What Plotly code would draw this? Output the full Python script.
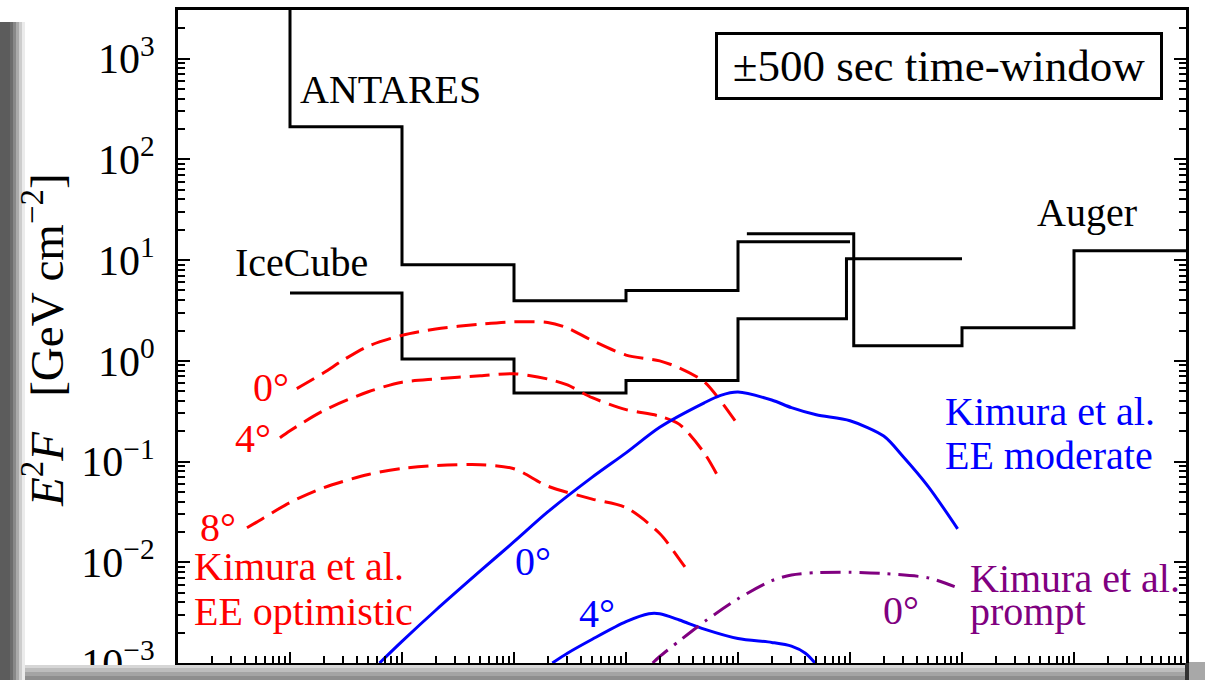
import plotly.graph_objects as go

FONT = "Liberation Serif"
RED, BLUE, PURPLE = "#ff0000", "#0000ff", "#800080"

# ---- upper limits per energy bin: bin edges in GeV, E^2 F in GeV cm^-2 ----
antares_edges = [1e2, 1e3, 1e4, 1e5, 1e6, 1e7, 1e8]
antares_limit = [5e4, 211.0, 9.0, 3.95, 5.0, 15.2]      # lowest bin lies above the frame

icecube_edges = [1e3, 1e4, 1e5, 1e6, 1e7, 9.3e7, 1e9]
icecube_limit = [4.71, 1.04, 0.479, 0.639, 2.62, 10.3]

auger_edges = [1.2e7, 1.08e8, 1e9, 1e10, 1e11]
auger_limit = [18.3, 1.41, 2.13, 12.4]

# ---- Kimura et al., extended emission, optimistic (viewing angle 0, 4, 8 deg) ----
opt0_E = [1.15e3, 2e3, 3e3, 5e3, 1e4, 2e4, 5e4, 1e5, 2e5, 3e5, 5e5, 1e6, 2e6, 3e6, 5e6, 7e6, 1.04e7]
opt0_F = [0.53, 0.76, 1.02, 1.40, 1.79, 2.07, 2.31, 2.44, 2.40, 2.12, 1.59, 1.14, 1.0, 0.848, 0.62, 0.40, 0.217]

opt4_E = [8.13e2, 1e3, 2e3, 5e3, 1e4, 2e4, 5e4, 1e5, 2e5, 3e5, 5e5, 1e6, 2e6, 3e6, 5e6, 6.87e6]
opt4_F = [0.172, 0.202, 0.321, 0.493, 0.613, 0.661, 0.711, 0.745, 0.66, 0.576, 0.430, 0.328, 0.282, 0.234, 0.1215, 0.066]

opt8_E = [4.13e2, 5e2, 1e3, 2e3, 5e3, 1e4, 2e4, 5e4, 1e5, 2e5, 5e5, 1e6, 2e6, 3e6, 3.49e6]
opt8_F = [0.022, 0.0249, 0.0392, 0.055, 0.0745, 0.0853, 0.091, 0.093, 0.0849, 0.057, 0.0424, 0.0349, 0.0193, 0.0107, 0.00844]

# ---- Kimura et al., extended emission, moderate (0 and 4 deg) ----
mod0_E = [6.3e3, 1e4, 2e4, 5e4, 1e5, 2e5, 5e5, 1e6, 2e6, 5e6, 7e6, 1e7, 2e7, 3e7, 5e7, 1e8, 2e8, 3e8, 5e8, 9.14e8]
mod0_F = [1.0e-3, 1.64e-3, 3.34e-3, 8.2e-3, 0.016, 0.0316, 0.070, 0.122, 0.219, 0.383, 0.454, 0.490,
          0.408, 0.343, 0.291, 0.254, 0.179, 0.111, 0.0564, 0.0215]

mod4_E = [2.2e5, 3e5, 5e5, 1e6, 1.6e6, 2e6, 3e6, 5e6, 1e7, 2e7, 3e7, 4e7, 4.87e7]
mod4_F = [1.0e-3, 1.25e-3, 1.72e-3, 2.57e-3, 3.08e-3, 3.08e-3, 2.67e-3, 2.17e-3, 1.75e-3, 1.60e-3,
          1.47e-3, 1.25e-3, 1.0e-3]

# ---- Kimura et al., prompt emission (0 deg) ----
prompt0_E = [1.73e6, 2e6, 3e6, 5e6, 1e7, 2e7, 3e7, 5e7, 1e8, 2e8, 5e8, 8.6e8]
prompt0_F = [1.0e-3, 1.16e-3, 1.66e-3, 2.57e-3, 4.34e-3, 6.56e-3, 7.48e-3, 7.89e-3, 7.97e-3, 7.73e-3,
             7.0e-3, 5.73e-3]

fig = go.Figure()


def add_steps(edges, limits):
    # horizontal segment across each bin, vertical jumps at the edges
    fig.add_trace(go.Scatter(x=list(edges), y=list(limits) + [limits[-1]], mode="lines",
                             line=dict(color="black", width=3, shape="hv"),
                             showlegend=False, hoverinfo="skip"))


def add_curve(E, F, color, dash):
    fig.add_trace(go.Scatter(x=E, y=F, mode="lines",
                             line=dict(color=color, width=3, dash=dash, shape="spline", smoothing=0.8),
                             showlegend=False, hoverinfo="skip"))


add_steps(antares_edges, antares_limit)
add_steps(icecube_edges, icecube_limit)
add_steps(auger_edges, auger_limit)

RED_DASH = "20px,9px"
add_curve(opt0_E, opt0_F, RED, RED_DASH)
add_curve(opt4_E, opt4_F, RED, RED_DASH)
add_curve(opt8_E, opt8_F, RED, RED_DASH)
add_curve(mod0_E, mod0_F, BLUE, "solid")
add_curve(mod4_E, mod4_F, BLUE, "solid")
add_curve(prompt0_E, prompt0_F, PURPLE, "20px,8px,3px,8px")

# ---- axes ----
decades_x = list(range(2, 12))
decades_y = list(range(-3, 4))
minor_x = [k * 10.0 ** p for p in decades_x for k in range(2, 10)]
minor_y = [k * 10.0 ** p for p in decades_y for k in range(2, 10)]


def sup_label(p):
    return "10<sup>%s</sup>" % (str(p) if p >= 0 else "\u2212" + str(-p))


fig.update_xaxes(type="log", range=[2, 11], showgrid=False, zeroline=False, automargin=False,
                 showline=True, linecolor="black", linewidth=3, mirror=True,
                 tickmode="array", tickvals=[10.0 ** p for p in decades_x], showticklabels=False,
                 ticks="inside", ticklen=11, tickwidth=2, tickcolor="black",
                 minor=dict(tickmode="array", tickvals=minor_x, ticks="inside", ticklen=7,
                            tickwidth=1.5, tickcolor="black", showgrid=False))

fig.update_yaxes(type="log", range=[-3, 3.483], showgrid=False, zeroline=False, automargin=False,
                 showline=True, linecolor="black", linewidth=3, mirror="ticks",
                 tickmode="array", tickvals=[10.0 ** p for p in decades_y],
                 ticktext=[sup_label(p) for p in decades_y],
                 tickfont=dict(family=FONT, size=42, color="black"), ticklabelstandoff=12,
                 ticklabeloverflow="allow",
                 ticks="inside", ticklen=12, tickwidth=2, tickcolor="black",
                 minor=dict(tickmode="array", tickvals=minor_y, ticks="inside", ticklen=7,
                            tickwidth=1.5, tickcolor="black", showgrid=False))

# ---- text labels (positions in log10 axis units) ----
def label(text, x, y, color="black", size=40, xanchor="center"):
    fig.add_annotation(text=text, x=x, y=y, xref="x", yref="y", showarrow=False,
                       xanchor=xanchor, yanchor="middle",
                       font=dict(family=FONT, size=size, color=color))


label("ANTARES", 3.90, 2.69)
label("IceCube", 3.107, 0.974)
label("Auger", 10.12, 1.47)

label("0°", 2.83, -0.267, RED)
label("4°", 2.669, -0.773, RED)
label("8°", 2.357, -1.657, RED)
label("Kimura et al.", 2.125, -2.044, RED, xanchor="left")
label("EE optimistic", 2.125, -2.490, RED, xanchor="left")

label("Kimura et al.", 8.827, -0.500, BLUE, xanchor="left")
label("EE moderate", 8.827, -0.937, BLUE, xanchor="left")
label("0°", 5.168, -1.995, BLUE)
label("4°", 5.739, -2.506, BLUE)

label("0°", 8.452, -2.481, PURPLE)
label("Kimura et al.", 9.05, -2.163, PURPLE, xanchor="left")
label("prompt", 9.05, -2.487, PURPLE, xanchor="left")

fig.add_annotation(text="\u00b1500 sec time-window", xref="paper", yref="paper",
                   x=0.755, y=0.915, showarrow=False, xanchor="center", yanchor="middle",
                   width=438, height=58, borderpad=2, bordercolor="black", borderwidth=3,
                   bgcolor="white", font=dict(family=FONT, size=45, color="black"))

# y-axis title, rotated
fig.add_annotation(text="<i>E</i><sup>2</sup><i>F</i>&nbsp;&nbsp;&nbsp;[GeV cm<sup>\u22122</sup>]",
                   xref="paper", yref="paper", x=-0.134, y=0.4946, textangle=-90,
                   showarrow=False, xanchor="center", yanchor="middle",
                   font=dict(family=FONT, size=47, color="black"))

# ---- soft grey page edge around the figure ----
L, R, T, B = 178, 1186, 10, 663


def px_rect(x0, y0, x1, y1, color):
    fig.add_shape(type="rect", xref="paper", yref="paper", layer="above",
                  x0=(x0 - L) / (R - L), x1=(x1 - L) / (R - L),
                  y0=(B - y0) / (B - T), y1=(B - y1) / (B - T),
                  line=dict(width=0), fillcolor=color)


left_band = [(0, 10, "#5c5c5c"), (10, 13, "#6c6c6c"), (13, 16, "#888888"),
             (16, 19, "#aaaaaa"), (19, 22, "#cdcdcd"), (22, 25, "#ebebeb")]
for x0, x1, c in left_band:
    px_rect(x0, 22, x1, 680, c)

bottom_band = [(665, 668, "#d6d6d6"), (668, 672, "#bdbdbd"), (672, 676, "#a4a4a4"), (676, 680, "#8e8e8e")]
for y0, y1, c in bottom_band:
    px_rect(25, y0, 1188, y1, c)
px_rect(1185, 663, 1189, 680, "#333333")
px_rect(1189, 662, 1205, 680, "#a8a8a8")

fig.update_layout(width=1205, height=680, margin=dict(l=L, r=1205 - R, t=T, b=680 - B, pad=0),
                  paper_bgcolor="white", plot_bgcolor="white", showlegend=False)

fig.write_html("out.html")
